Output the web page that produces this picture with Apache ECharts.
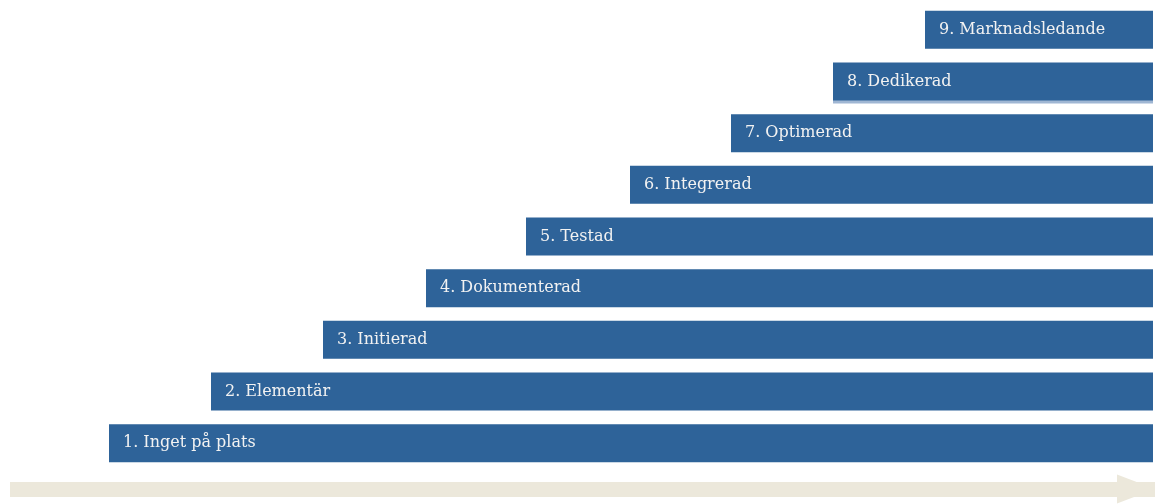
<!DOCTYPE html>
<html>
<head>
    <meta charset="utf-8" />
    <title>Mognadsnivåer</title>
    <script src="https://cdn.jsdelivr.net/npm/echarts@6/dist/echarts.min.js"></script>
    <style>
        html, body { margin: 0; padding: 0; background: #fff; }
    </style>
</head>
<body>
<div id="main" style="width: 1155px;height:504px;"></div>
<script type="text/javascript">
    // nivåer, nedifrån och upp
    var levels = ['1. Inget på plats', '2. Elementär', '3. Initierad', '4. Dokumenterad', '5. Testad',
        '6. Integrerad', '7. Optimerad', '8. Dedikerad', '9. Marknadsledande'];
    // var varje stapel börjar
    var starts = [109, 211, 323, 426, 526, 630, 731, 833, 925];
    // gemensamt slut
    var barEnd = 1153;

    var offsetData = [];
    var barData = [];
    for (var i = 0; i < levels.length; i++) {
        offsetData.push(starts[i]);
        var item = { value: barEnd - starts[i] };
        if (i === 7) {
            // ljus kant under "Dedikerad"
            item.itemStyle = { shadowColor: '#9fb6d3', shadowOffsetY: 3, shadowBlur: 0 };
        }
        barData.push(item);
    }

    var myChart = echarts.init(document.getElementById('main'));
    var option = {
        animation: false,
        grid: { left: 10, right: 0, top: 4, height: 465 },
        xAxis: {
            type: 'value',
            min: 10,
            max: 1155,
            offset: 20,
            splitLine: { show: false },
            axisTick: { show: false },
            axisLabel: { show: false },
            axisLine: {
                show: true,
                symbol: ['none', 'triangle'],
                symbolSize: [29, 38],
                symbolOffset: [0, -19],
                lineStyle: { color: '#ece8db', width: 15, cap: 'butt' }
            }
        },
        yAxis: {
            type: 'category',
            data: levels,
            show: false
        },
        series: [
            {
                type: 'bar',
                stack: 'steg',
                data: offsetData,
                barWidth: 38,
                itemStyle: { color: 'transparent' },
                silent: true
            },
            {
                type: 'bar',
                stack: 'steg',
                data: barData,
                barWidth: 38,
                itemStyle: { color: '#2e6399' },
                label: {
                    show: true,
                    position: 'insideLeft',
                    distance: 14,
                    formatter: function (p) { return levels[p.dataIndex]; },
                    color: '#f2f2f2',
                    fontFamily: 'DejaVu Serif',
                    fontSize: 16
                }
            }
        ]
    };
    myChart.setOption(option);
</script>
</body>
</html>
